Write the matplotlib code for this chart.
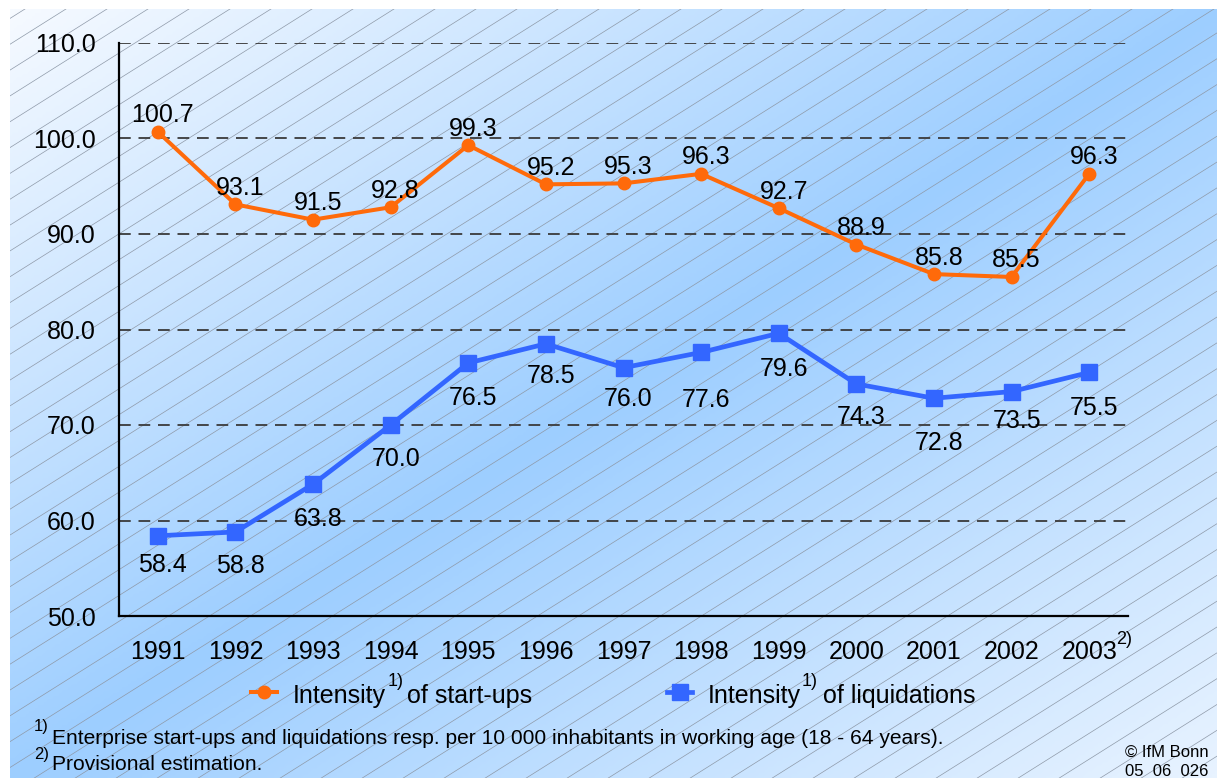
import numpy as np
import matplotlib
matplotlib.use("Agg")
import matplotlib.pyplot as plt
from matplotlib.lines import Line2D
from matplotlib.patches import Rectangle
from matplotlib.colors import LinearSegmentedColormap

plt.rcParams['font.family'] = ['Liberation Sans', 'DejaVu Sans']

# ---------------- data ----------------
years = ['1991', '1992', '1993', '1994', '1995', '1996', '1997',
         '1998', '1999', '2000', '2001', '2002', '2003']
startups = [100.7, 93.1, 91.5, 92.8, 99.3, 95.2, 95.3, 96.3, 92.7, 88.9, 85.8, 85.5, 96.3]
liquidations = [58.4, 58.8, 63.8, 70.0, 76.5, 78.5, 76.0, 77.6, 79.6, 74.3, 72.8, 73.5, 75.5]
yticks = [50, 60, 70, 80, 90, 100, 110]
legend_startups = 'Intensity'
legend_startups_rest = 'of start-ups'
legend_liq_rest = 'of liquidations'
footnote1 = 'Enterprise start-ups and liquidations resp. per 10 000 inhabitants in working age (18 - 64 years).'
footnote2 = 'Provisional estimation.'
credit1 = '\u00a9 IfM Bonn'
credit2 = '05  06  026'

# label offsets below blue points (pixels)
liq_label_drop = [27, 32, 32, 31, 33, 30, 29, 45, 33, 31, 42, 27, 33]

W, H = 1217, 778
DPI = 100
fig = plt.figure(figsize=(W / DPI, H / DPI), dpi=DPI)
fig.patch.set_facecolor('white')

# ---------------- background ----------------
bg = fig.add_axes([0, 0, 1, 1])
bg.set_xlim(0, W)
bg.set_ylim(H, 0)
bg.axis('off')
bg.set_zorder(0)

x0, y0 = 10, 9
nx, ny = 400, 260
u = np.linspace(0, 1, nx)[None, :]
v = np.linspace(0, 1, ny)[:, None]
t = (u + v) / 2.0
cmap = LinearSegmentedColormap.from_list(
    'bgblue', [(0.0, '#f6faff'), (0.5, '#9dceff'), (1.0, '#e8f3ff')])
bg.imshow(cmap(t), extent=(x0, W, H, y0), aspect='auto', interpolation='bilinear')

clip = Rectangle((x0, y0), W - x0, H - y0, transform=bg.transData, fill=False, lw=0)
bg.add_patch(clip)
slope = 0.63
spacing = 41 * slope
c0 = 60 + slope * 313
for k in range(-40, 80):
    c = c0 + k * spacing
    ln, = bg.plot([0, W], [c, c - slope * W], color='#8e99a8', lw=0.5)
    ln.set_clip_path(clip)

# ---------------- main axes ----------------
L, R, T, B = 119, 1128, 43, 616
ax = fig.add_axes([L / W, 1 - B / H, (R - L) / W, (B - T) / H])
ax.set_zorder(2)
ax.patch.set_visible(False)
x = np.arange(len(years))
ax.set_xlim(-0.5, len(years) - 0.5)
ax.set_ylim(50, 110)
for s in ['top', 'right']:
    ax.spines[s].set_visible(False)
for s in ['left', 'bottom']:
    ax.spines[s].set_linewidth(1.6)
    ax.spines[s].set_color('black')
FS = 18
ax.set_yticks(yticks)
ax.set_yticklabels([f'{v:.1f}' for v in yticks], fontsize=FS)
ax.set_xticks(x)
ax.set_xticklabels(years, fontsize=FS)
ax.tick_params(axis='both', length=0)
ax.tick_params(axis='y', pad=17)
ax.tick_params(axis='x', pad=17)
for yv in yticks[1:]:
    ax.axhline(yv, color='#3a3a3a', lw=1.3, dashes=(6.5, 4.3), zorder=1)

orange = '#ff6a0a'
blue = '#3366ff'
ax.plot(x, startups, color=orange, lw=2.9, marker='o', ms=9, zorder=4, clip_on=False)
ax.plot(x, liquidations, color=blue, lw=3.4, marker='s', ms=12, zorder=4, clip_on=False)

pt = 72.0 / DPI
for i, v in enumerate(startups):
    ax.annotate(f'{v:.1f}', (x[i], v), xytext=(5 * pt, 19 * pt), textcoords='offset points',
                ha='center', va='center_baseline', fontsize=FS, zorder=5)
for i, v in enumerate(liquidations):
    ax.annotate(f'{v:.1f}', (x[i], v), xytext=(5 * pt, -liq_label_drop[i] * pt),
                textcoords='offset points', ha='center', va='center_baseline',
                fontsize=FS, zorder=5)


def fx(px):
    return px / W


def fy(py):
    return 1 - py / H


# superscript on 2003 tick
fig.text(fx(1116), fy(638), '2)', fontsize=13, ha='left', va='center_baseline')

# ---------------- legend ----------------
fig.add_artist(Line2D([fx(251), fx(277)], [fy(692), fy(692)], color=orange, lw=2.9,
                      transform=fig.transFigure))
fig.add_artist(Line2D([fx(264)], [fy(692)], color=orange, marker='o', ms=9, lw=0,
                      transform=fig.transFigure))
fig.add_artist(Line2D([fx(667), fx(692)], [fy(692), fy(692)], color=blue, lw=3.4,
                      transform=fig.transFigure))
fig.add_artist(Line2D([fx(680)], [fy(692)], color=blue, marker='s', ms=12, lw=0,
                      transform=fig.transFigure))

fig.text(fx(293), fy(693), legend_startups, fontsize=FS, ha='left', va='center_baseline')
fig.text(fx(388), fy(680), '1)', fontsize=13, ha='left', va='center_baseline')
fig.text(fx(407), fy(693), legend_startups_rest, fontsize=FS, ha='left', va='center_baseline')
fig.text(fx(708), fy(693), legend_startups, fontsize=FS, ha='left', va='center_baseline')
fig.text(fx(802), fy(680), '1)', fontsize=13, ha='left', va='center_baseline')
fig.text(fx(823), fy(693), legend_liq_rest, fontsize=FS, ha='left', va='center_baseline')

# ---------------- footnotes ----------------
fig.text(fx(34), fy(725), '1)', fontsize=12, ha='left', va='center_baseline')
fig.text(fx(52), fy(736), footnote1, fontsize=15.1, ha='left', va='center_baseline')
fig.text(fx(34), fy(753), '2)', fontsize=12, ha='left', va='center_baseline')
fig.text(fx(52), fy(762), footnote2, fontsize=15.1, ha='left', va='center_baseline')
fig.text(fx(1125), fy(751), credit1, fontsize=12, ha='left', va='center_baseline')
fig.text(fx(1125), fy(770), credit2, fontsize=12, ha='left', va='center_baseline')

fig.savefig('out.png', dpi=DPI)
